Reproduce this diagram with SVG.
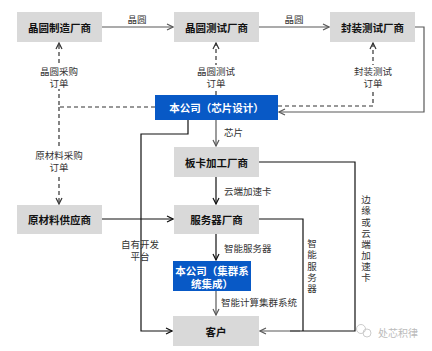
<svg xmlns="http://www.w3.org/2000/svg" width="432" height="351" viewBox="0 0 432 351">
<defs>
<style>
.n rect{fill:#d9d9d9}
.b rect{fill:#0859c6}
.n text{font-family:"Noto Sans CJK SC","Noto Sans",sans-serif;font-size:10.5px;font-weight:bold;fill:#111;text-anchor:middle;dominant-baseline:central}
.b text{font-family:"Noto Sans CJK SC","Noto Sans",sans-serif;font-size:10.5px;font-weight:bold;fill:#fff;text-anchor:middle;dominant-baseline:central}
.lb{font-family:"Noto Sans CJK SC","Noto Sans",sans-serif;font-size:9.5px;fill:#333;dominant-baseline:central}
.c{text-anchor:middle}
.v{font-family:"Noto Sans CJK SC","Noto Sans",sans-serif;font-size:9.5px;fill:#333;writing-mode:vertical-rl;text-orientation:upright;letter-spacing:1.6px}
.g{fill:none;stroke:#595959;stroke-width:1.2;marker-end:url(#ag)}
.k{fill:none;stroke:#111;stroke-width:1.2}
.ka{marker-end:url(#ak)}
.d{fill:none;stroke:#333;stroke-width:1.2;stroke-dasharray:4 3}
.da{marker-end:url(#ad)}
</style>
<marker id="ag" viewBox="0 0 8 8" refX="7" refY="4" markerWidth="8" markerHeight="8" markerUnits="userSpaceOnUse" orient="auto"><path d="M1,1 L7,4 L1,7" fill="none" stroke="#595959" stroke-width="1.2"/></marker>
<marker id="ak" viewBox="0 0 8 8" refX="7" refY="4" markerWidth="8" markerHeight="8" markerUnits="userSpaceOnUse" orient="auto"><path d="M1,1 L7,4 L1,7" fill="none" stroke="#111" stroke-width="1.2"/></marker>
<marker id="ad" viewBox="0 0 8 8" refX="7" refY="4" markerWidth="8" markerHeight="8" markerUnits="userSpaceOnUse" orient="auto"><path d="M1,1 L7,4 L1,7" fill="none" stroke="#333" stroke-width="1.2"/></marker>
</defs>
<rect width="432" height="351" fill="#fff"/>
<g id="connectors">
<path class="g" d="M102,27 H173"/>
<path class="g" d="M259,27 H329"/>
<path class="g" d="M415,27 H424 V112 H279"/>
<path class="d da" d="M155,107 H59 V43"/>
<path class="d da" d="M59,107 V204"/>
<path class="d da" d="M216,95 V43"/>
<path class="d da" d="M278,106 H373 V43"/>
<path class="g" d="M216,120 V146"/>
<path class="k ka" d="M188,120 V134 H141 V331 H172"/>
<path class="k ka" d="M216,177 V204"/>
<path class="k ka" d="M102,219 H173"/>
<path class="k ka" d="M216,234 V260"/>
<path class="g" d="M216,291 V315"/>
<path class="k" d="M259,162 H355 V331 H290"/>
<path class="k" d="M259,219 H303 V331"/>
<path class="g" d="M300,331 H260"/>
</g>
<g id="labels">
<text class="lb c" x="137" y="19">晶圆</text>
<text class="lb c" x="294" y="19">晶圆</text>
<rect x="36" y="65" width="46" height="24" fill="#fff"/>
<text class="lb c" x="59" y="71">晶圆采购<tspan x="59" dy="12">订单</tspan></text>
<rect x="193" y="65" width="46" height="24" fill="#fff"/>
<text class="lb c" x="216" y="71">晶圆测试<tspan x="216" dy="12">订单</tspan></text>
<rect x="350" y="65" width="46" height="24" fill="#fff"/>
<text class="lb c" x="373" y="71">封装测试<tspan x="373" dy="12">订单</tspan></text>
<rect x="30" y="148" width="58" height="26" fill="#fff"/>
<text class="lb c" x="59" y="155">原材料采购<tspan x="59" dy="12">订单</tspan></text>
<text class="lb" x="224" y="132">芯片</text>
<text class="lb" x="224" y="191">云端加速卡</text>
<text class="lb" x="224" y="248">智能服务器</text>
<text class="lb" x="221" y="302">智能计算集群系统</text>
<text class="lb c" x="140" y="244">自有开发<tspan x="140" dy="12">平台</tspan></text>
<text class="v" x="312" y="239">智能服务器</text>
<text class="v" x="366" y="195">边缘或云端加速卡</text>
</g>
<g id="n1" class="n"><rect x="17" y="12" width="85" height="30"/><text x="59.5" y="27.5">晶圆制造厂商</text></g>
<g id="n2" class="n"><rect x="174" y="12" width="85" height="30"/><text x="216.5" y="27.5">晶圆测试厂商</text></g>
<g id="n3" class="n"><rect x="330" y="12" width="85" height="30"/><text x="372.5" y="27.5">封装测试厂商</text></g>
<g id="n4" class="b"><rect x="155" y="95" width="123" height="25"/><text x="216.5" y="107.5">本公司（芯片设计）</text></g>
<g id="n5" class="n"><rect x="174" y="147" width="85" height="30"/><text x="216.5" y="162.5">板卡加工厂商</text></g>
<g id="n6" class="n"><rect x="17" y="205" width="85" height="29"/><text x="59.5" y="219.5">原材料供应商</text></g>
<g id="n7" class="n"><rect x="174" y="205" width="85" height="29"/><text x="216.5" y="219.5">服务器厂商</text></g>
<g id="n8" class="b"><rect x="173" y="261" width="78" height="30"/><text x="212" y="270.5">本公司（集群系<tspan x="212" dy="12">统集成）</tspan></text></g>
<g id="n9" class="n"><rect x="173" y="316" width="86" height="30"/><text x="216" y="331">客户</text></g>
<g id="watermark">
<circle cx="361" cy="329" r="4.5" fill="none" stroke="#ccc" stroke-width="1"/>
<circle cx="367" cy="333" r="4" fill="none" stroke="#ccc" stroke-width="1"/>
<text x="378" y="332" font-family="Noto Sans CJK SC,sans-serif" font-size="10" fill="#bbb" dominant-baseline="central">处芯积律</text>
</g>
</svg>
